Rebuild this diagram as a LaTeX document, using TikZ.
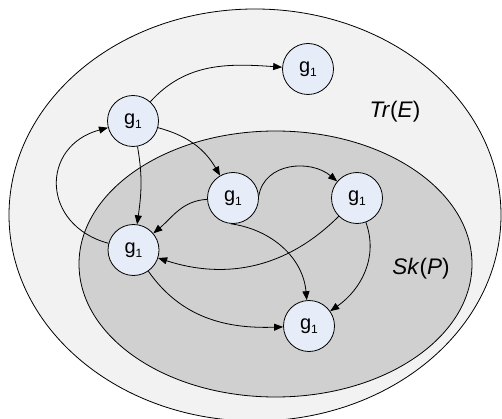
\documentclass[tikz,border=0pt]{standalone}
\usepackage{fontspec}
\setmainfont{Liberation Sans}
\usetikzlibrary{arrows.meta}
\definecolor{outerset}{HTML}{F2F2F2}
\definecolor{innerset}{HTML}{D0D0D0}
\definecolor{nodefill}{HTML}{E7EDF8}
\newcommand{\gsub}{g\raisebox{-4.5pt}{\fontsize{12}{12}\selectfont 1}}
\tikzset{
  state/.style={circle, draw, line width=0.8pt, fill=nodefill, minimum size=51pt,
    inner sep=0pt, font=\fontsize{20}{20}\selectfont},
  arr/.style={line width=0.8pt, -{Triangle[length=9pt,width=7pt]}},
  setlabel/.style={font=\fontsize{22.5}{22.5}\selectfont, inner sep=0pt},
  setshape/.style={draw, line width=0.8pt}
}
\begin{document}
\begin{tikzpicture}[x=1pt,y=-1pt]
  \useasboundingbox (0,0) rectangle (502,419);
  % the two nested sets
  \draw[setshape, fill=outerset] (255,215) ellipse [x radius=246, y radius=206];
  \draw[setshape, fill=innerset] (275.5,264) ellipse [x radius=196.5, y radius=133];
  \node[setlabel] (tr) at (395,112) {\textit{Tr}(\textit{E})};
  \node[setlabel] (sk) at (421,269) {\textit{Sk}(\textit{P})};
  % states
  \node[state] (T) at (308,69) {\gsub};
  \node[state] (A) at (133,121) {\gsub};
  \node[state] (B) at (233,198) {\gsub};
  \node[state] (C) at (357,198) {\gsub};
  \node[state] (D) at (133.5,250) {\gsub};
  \node[state] (E) at (309,326) {\gsub};
  % transitions
  \draw[arr] (A) to[out=48, in=176] (T);
  \draw[arr] (A) to[out=-15, in=120] (B);
  \draw[arr] (A) to[out=-80, in=82] (D);
  \draw[arr] (D) to[out=165, in=195, looseness=1.55] (A);
  \draw[arr] (B.5) to[out=80, in=140, looseness=1.1] (C);
  \draw[arr] (C) to[out=-135, in=-18] (D);
  \draw[arr] (B) to[out=183, in=40] (D);
  \draw[arr] (B.-95) to[out=-8, in=95] (E);
  \draw[arr] (C) to[out=-70, in=35] (E);
  \draw[arr] (D) to[out=-55, in=182] (E);
\end{tikzpicture}
\end{document}
